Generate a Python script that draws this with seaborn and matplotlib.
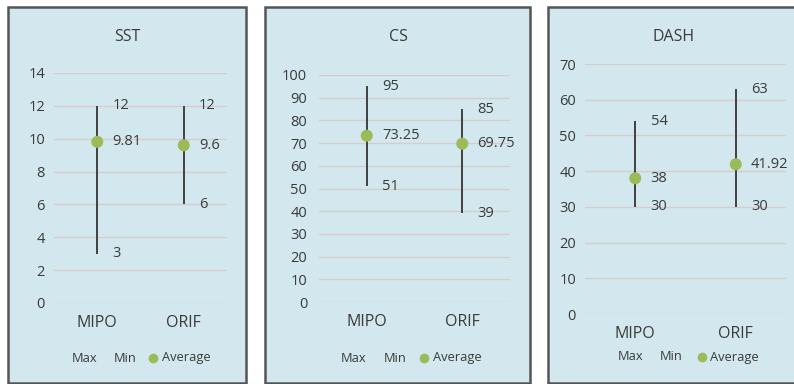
import matplotlib
matplotlib.use("Agg")
import matplotlib.pyplot as plt
from matplotlib.patches import Rectangle
import numpy as np
import pandas as pd
import seaborn as sns

# ---- data ----
groups = ["MIPO", "ORIF"]

sst_max = [12, 12]
sst_min = [3, 6]
sst_avg = [9.81, 9.6]

cs_max = [95, 85]
cs_min = [51, 39]
cs_avg = [73.25, 69.75]

dash_max = [54, 63]
dash_min = [30, 30]
dash_avg = [38, 41.92]

sst_ticks = list(range(0, 15, 2))
cs_ticks = list(range(0, 101, 10))
dash_ticks = list(range(0, 71, 10))

legend_labels = ["Max", "Min", "Average"]

# ---- style ----
sns.set_theme(style="white")
plt.rcParams["font.family"] = ["Open Sans", "DejaVu Sans"]

BG = "#d3e8ee"
EDGE = "#555555"
GRID = "#d6cbcf"
TXT = "#3a3a3a"
GREEN = "#9bbb59"
LINE = "#404040"

W, H = 794, 384
fig = plt.figure(figsize=(W / 100, H / 100), dpi=100)


def fx(x):
    return x / W


def fy(y):
    return 1 - y / H


def px(x0, y0, x1, y1):
    """pixel box (top-left origin) -> figure-fraction [l, b, w, h]"""
    return [x0 / W, 1 - y1 / H, (x1 - x0) / W, (y1 - y0) / H]


panels = [
    dict(title="SST", frame=(8, 7, 246, 383), plot=(54, 73, 227, 303),
         mx=sst_max, mn=sst_min, avg=sst_avg, ticks=sst_ticks, ypad=6.5,
         title_x=127, leg=(72, 114, 153, 162), leg_y=358),
    dict(title="CS", frame=(265, 7, 530, 383), plot=(319, 75, 510, 302),
         mx=cs_max, mn=cs_min, avg=cs_avg, ticks=cs_ticks, ypad=8.5,
         title_x=398, leg=(341, 384, 424, 433), leg_y=358),
    dict(title="DASH", frame=(548, 7, 802, 383), plot=(585, 64, 786, 314),
         mx=dash_max, mn=dash_min, avg=dash_avg, ticks=dash_ticks, ypad=6.5,
         title_x=674, leg=(618, 660, 702, 710), leg_y=357),
]

for p in panels:
    x0, y0, x1, y1 = p["frame"]
    fig.patches.append(Rectangle((x0 / W, 1 - y1 / H), (x1 - x0) / W, (y1 - y0) / H,
                                 transform=fig.transFigure, facecolor=BG,
                                 edgecolor=EDGE, linewidth=1.8, zorder=-5))

    ax = fig.add_axes(px(*p["plot"]))
    ax.set_zorder(2)
    ax.set_facecolor("none")

    df = pd.DataFrame({"group": groups, "max": p["mx"], "min": p["mn"], "avg": p["avg"]})
    pos = np.arange(len(groups))

    # high-low range lines
    ax.vlines(pos, df["min"], df["max"], color=LINE, linewidth=1.4, zorder=2)
    # average markers
    sns.scatterplot(data=df, x="group", y="avg", ax=ax, color=GREEN, s=75,
                    edgecolor="none", zorder=3, legend=False)

    # value labels
    for i, row in df.iterrows():
        for col in ("max", "avg", "min"):
            v = row[col]
            ax.annotate(f"{v:g}", (i, v), xytext=(11, 0), textcoords="offset points",
                        ha="left", va="center", fontsize=10.5, color=TXT,
                        annotation_clip=False)

    ax.set_xlim(-0.5, len(groups) - 0.5)
    ax.set_ylim(p["ticks"][0], p["ticks"][-1])
    ax.set_yticks(p["ticks"])
    ax.set_xticks(pos)
    ax.set_xticklabels(groups)
    ax.set_xlabel("")
    ax.set_ylabel("")
    ax.yaxis.grid(True, color=GRID, linewidth=1.0)
    ax.set_axisbelow(True)
    for s in ax.spines.values():
        s.set_visible(False)
    ax.tick_params(axis="y", length=0, pad=p["ypad"], labelsize=10.5, labelcolor=TXT)
    ax.tick_params(axis="x", length=0, pad=8.5, labelsize=11.5, labelcolor=TXT)

    fig.text(fx(p["title_x"]), fy(37), p["title"], ha="center", va="center",
             fontsize=11.5, color=TXT)

    # legend row: Max / Min (no marker) and Average (green dot)
    lx_max, lx_min, lx_dot, lx_avg = p["leg"]
    ly = fy(p["leg_y"])
    fig.text(fx(lx_max), ly, legend_labels[0], ha="left", va="center",
             fontsize=9.3, color=TXT)
    fig.text(fx(lx_min), ly, legend_labels[1], ha="left", va="center",
             fontsize=9.3, color=TXT)
    fig.add_artist(plt.Line2D([fx(lx_dot)], [ly], transform=fig.transFigure,
                              marker="o", markersize=7, linestyle="none",
                              markerfacecolor=GREEN, markeredgecolor="none"))
    fig.text(fx(lx_avg), ly, legend_labels[2], ha="left", va="center",
             fontsize=9.3, color=TXT)

fig.savefig("out.png", dpi=100)
